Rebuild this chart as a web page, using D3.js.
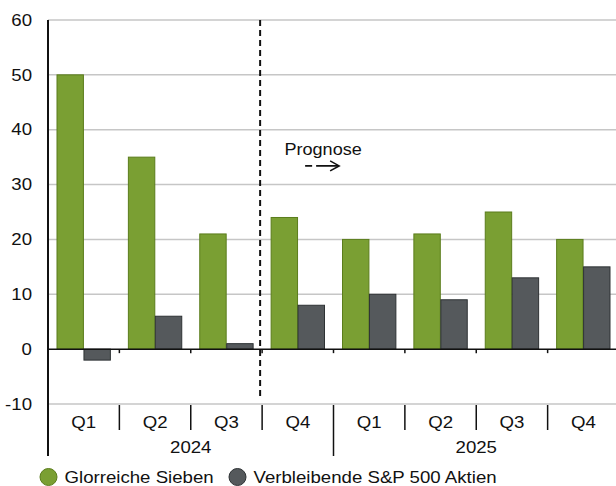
<!DOCTYPE html>
<html>
<head>
<meta charset="utf-8">
<script src="https://cdn.jsdelivr.net/npm/d3@7"></script>
<style>
  body { margin: 0; background: #fff; }
  text { font-family: "Liberation Sans", Arial, sans-serif; fill: #111; }
</style>
</head>
<body>
<div class="chart"></div>
<script>
const quarters = ["Q1", "Q2", "Q3", "Q4", "Q1", "Q2", "Q3", "Q4"];
const years = ["2024", "2024", "2024", "2024", "2025", "2025", "2025", "2025"];
const glorreiche = [50, 35, 21, 24, 20, 21, 25, 20];
const verbleibende = [-2, 6, 1, 8, 10, 9, 13, 15];
const seriesNames = ["Glorreiche Sieben", "Verbleibende S&P 500 Aktien"];
const yTicks = [-10, 0, 10, 20, 30, 40, 50, 60];
const forecastStart = 3;

const W = 616, H = 486;
const margin = { top: 20, right: -3, bottom: 82, left: 48 };
const width = W - margin.left - margin.right;
const height = H - margin.top - margin.bottom;
const stretch = 1.13;

const svg = d3.select(".chart").append("svg")
  .attr("width", W).attr("height", H);
const g = svg.append("g")
  .attr("transform", "translate(" + margin.left + "," + margin.top + ")");

// text is a bit wider than normal in the original
const place = (sel, fx, fy) => sel.attr("transform", (d, i) =>
  "translate(" + fx(d, i) + "," + fy(d, i) + ") scale(" + stretch + ",1)");

const idx = d3.range(quarters.length);
const x = d3.scaleBand().domain(idx).range([0, width]).paddingInner(0).paddingOuter(0);
const inner = d3.scaleBand().domain([0, 1]).range([9, x.bandwidth() - 9]).paddingInner(0.02);
const y = d3.scaleLinear().domain([-10, 60]).range([height, 0]);

// gridlines
g.selectAll(".grid").data(yTicks.filter(d => d !== 0)).enter().append("line")
  .attr("x1", 0).attr("x2", width)
  .attr("y1", d => y(d)).attr("y2", d => y(d))
  .attr("stroke", "#c6c6c6").attr("stroke-width", 1.5);

// y tick labels
g.selectAll(".ylab").data(yTicks).enter().append("text")
  .call(place, () => -16, d => y(d)).attr("dy", "0.35em")
  .attr("text-anchor", "end").style("font-size", "16.5px")
  .text(d => d);

// bars
const colors = ["#7a9f33", "#55595c"];
const strokes = ["#5b7d1c", "#2e3234"];
[glorreiche, verbleibende].forEach((vals, s) => {
  g.selectAll(".bar" + s).data(vals).enter().append("rect")
    .attr("x", (d, i) => x(i) + inner(s))
    .attr("width", inner.bandwidth())
    .attr("y", d => y(Math.max(0, d)))
    .attr("height", d => Math.abs(y(d) - y(0)))
    .attr("fill", colors[s])
    .attr("stroke", strokes[s]).attr("stroke-width", 1);
});

// zero line
g.append("line").attr("x1", 0).attr("x2", width)
  .attr("y1", y(0)).attr("y2", y(0)).attr("stroke", "#111").attr("stroke-width", 1.5);
// ticks on zero line
g.selectAll(".ztick").data(idx.slice(1)).enter().append("line")
  .attr("x1", d => x(d)).attr("x2", d => x(d))
  .attr("y1", y(0)).attr("y2", y(0) + 4)
  .attr("stroke", "#111").attr("stroke-width", 1.5);

// y axis line
g.append("line").attr("x1", 0).attr("x2", 0)
  .attr("y1", 0).attr("y2", height + 52).attr("stroke", "#111").attr("stroke-width", 2);

// category separators
g.selectAll(".sep").data(idx.slice(1)).enter().append("line")
  .attr("x1", d => x(d)).attr("x2", d => x(d))
  .attr("y1", height + 1).attr("y2", d => years[d] !== years[d - 1] ? height + 52 : height + 26)
  .attr("stroke", "#111").attr("stroke-width", 1.5);

// quarter labels
g.selectAll(".qlab").data(quarters).enter().append("text")
  .call(place, (d, i) => x(i) + x.bandwidth() / 2, () => height + 24)
  .attr("text-anchor", "middle").style("font-size", "16.5px")
  .text(d => d);

// year labels
const yearGroups = d3.groups(idx, i => years[i]);
g.selectAll(".ylabel").data(yearGroups).enter().append("text")
  .call(place, d => (x(d[1][0]) + x(d[1][d[1].length - 1]) + x.bandwidth()) / 2, () => height + 49)
  .attr("text-anchor", "middle").style("font-size", "16.5px")
  .text(d => d[0]);

// forecast dashed line
const fx = x(forecastStart) - 2;
g.append("line").attr("x1", fx).attr("x2", fx)
  .attr("y1", 0).attr("y2", y(-9)).attr("stroke", "#111")
  .attr("stroke-width", 2).attr("stroke-dasharray", "6,4");

g.append("text").call(place, () => fx + 63, () => y(36.4)).attr("dy", "0.35em")
  .attr("text-anchor", "middle").style("font-size", "16px")
  .text("Prognose");

// dashed arrow under the label
const ay = y(33.4), ax = fx + 45;
g.append("path")
  .attr("d", "M" + ax + "," + ay + "h7M" + (ax + 11) + "," + ay + "h22")
  .attr("stroke", "#111").attr("stroke-width", 1.6).attr("fill", "none");
g.append("path")
  .attr("d", "M" + (ax + 25) + "," + (ay - 5) + "L" + (ax + 34) + "," + ay + "L" + (ax + 25) + "," + (ay + 5))
  .attr("stroke", "#111").attr("stroke-width", 1.6).attr("fill", "none");

// legend
const legend = svg.selectAll(".legend").data(seriesNames).enter().append("g")
  .attr("transform", (d, i) => "translate(" + (48.5 + i * 189) + "," + 477 + ")");
legend.append("circle").attr("r", 8.5)
  .attr("fill", (d, i) => colors[i]).attr("stroke", (d, i) => strokes[i]).attr("stroke-width", 1);
legend.append("text").call(place, () => 16, () => 0).attr("dy", "0.35em")
  .style("font-size", "16.5px").text(d => d);
</script>
</body>
</html>
